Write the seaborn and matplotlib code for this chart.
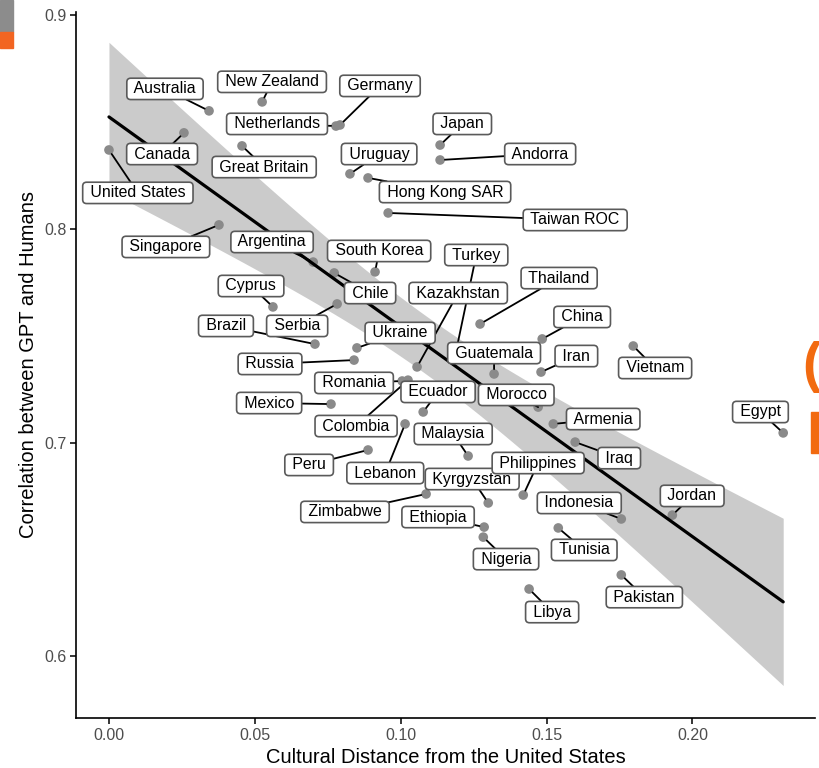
import numpy as np
import pandas as pd
import matplotlib.pyplot as plt
import seaborn as sns

sns.set_theme(style="ticks")
plt.rcParams["font.family"] = ["Liberation Sans", "DejaVu Sans"]

# values
countries = ["United States", "Canada", "Australia", "New Zealand", "Netherlands",
             "Germany", "Great Britain", "Uruguay", "Hong Kong SAR", "Taiwan ROC",
             "Singapore", "Japan", "Andorra", "Argentina", "Chile", "South Korea",
             "Serbia", "Cyprus", "Brazil", "Ukraine", "Russia", "Romania", "Colombia",
             "Mexico", "Lebanon", "Peru", "Zimbabwe", "Ecuador", "Kazakhstan", "Turkey",
             "Thailand", "China", "Iran", "Guatemala", "Vietnam", "Morocco", "Armenia",
             "Iraq", "Malaysia", "Kyrgyzstan", "Philippines", "Ethiopia", "Nigeria",
             "Indonesia", "Jordan", "Tunisia", "Pakistan", "Libya", "Egypt"]
distance = [0.000, 0.0257, 0.0343, 0.0525, 0.0778,
            0.0792, 0.0456, 0.0826, 0.0888, 0.0957,
            0.0377, 0.1135, 0.1135, 0.0700, 0.0772, 0.0912,
            0.0782, 0.0562, 0.0706, 0.0850, 0.0840, 0.1005, 0.1025,
            0.0761, 0.1015, 0.0888, 0.1087, 0.1077, 0.1056, 0.1187,
            0.1272, 0.1485, 0.1481, 0.1320, 0.1797, 0.1471, 0.1523,
            0.1598, 0.1231, 0.1300, 0.1420, 0.1286, 0.1283,
            0.1756, 0.1931, 0.1540, 0.1756, 0.1440, 0.2311]
correlation = [0.8370, 0.8450, 0.8553, 0.8595, 0.8482,
               0.8487, 0.8389, 0.8258, 0.8239, 0.8075,
               0.8019, 0.8393, 0.8323, 0.7845, 0.7794, 0.7799,
               0.7649, 0.7635, 0.7461, 0.7443, 0.7386, 0.7288, 0.7292,
               0.7180, 0.7087, 0.6965, 0.6759, 0.7143, 0.7354, 0.7410,
               0.7555, 0.7485, 0.7330, 0.7321, 0.7452, 0.7166, 0.7087,
               0.7002, 0.6937, 0.6717, 0.6754, 0.6604, 0.6557,
               0.6642, 0.6660, 0.6600, 0.6380, 0.6314, 0.7045]

df = pd.DataFrame({"country": countries, "distance": distance, "corr": correlation})

# where each label box sits (placed by hand, ggrepel style)
label_xy = {
    "Australia": (0.0192, 0.8656), "New Zealand": (0.0559, 0.8689),
    "Germany": (0.0929, 0.8670), "Netherlands": (0.0576, 0.8492),
    "Canada": (0.0182, 0.8351), "Great Britain": (0.0532, 0.8290),
    "Uruguay": (0.0926, 0.8351), "United States": (0.0099, 0.8169),
    "Hong Kong SAR": (0.1152, 0.8173), "Japan": (0.1211, 0.8492),
    "Andorra": (0.1478, 0.8351), "Taiwan ROC": (0.1598, 0.8042),
    "Singapore": (0.0195, 0.7916), "Argentina": (0.0559, 0.7939),
    "South Korea": (0.0926, 0.7897), "Turkey": (0.1259, 0.7878),
    "Thailand": (0.1543, 0.7770), "Kazakhstan": (0.1197, 0.7700),
    "Chile": (0.0895, 0.7700), "Cyprus": (0.0487, 0.7733),
    "Brazil": (0.0401, 0.7546), "Serbia": (0.0645, 0.7546),
    "Ukraine": (0.0998, 0.7513), "China": (0.1622, 0.7588),
    "Guatemala": (0.1320, 0.7419), "Iran": (0.1602, 0.7405),
    "Vietnam": (0.1872, 0.7349), "Russia": (0.0552, 0.7368),
    "Romania": (0.0840, 0.7279), "Ecuador": (0.1128, 0.7237),
    "Morocco": (0.1396, 0.7223), "Mexico": (0.0549, 0.7185),
    "Armenia": (0.1694, 0.7110), "Egypt": (0.2233, 0.7143),
    "Colombia": (0.0847, 0.7077), "Malaysia": (0.1180, 0.7040),
    "Iraq": (0.1749, 0.6927), "Philippines": (0.1471, 0.6904),
    "Peru": (0.0686, 0.6895), "Lebanon": (0.0947, 0.6857),
    "Kyrgyzstan": (0.1245, 0.6829), "Jordan": (0.1999, 0.6750),
    "Indonesia": (0.1612, 0.6717), "Zimbabwe": (0.0809, 0.6675),
    "Ethiopia": (0.1128, 0.6651), "Tunisia": (0.1629, 0.6497),
    "Nigeria": (0.1361, 0.6454), "Pakistan": (0.1835, 0.6276),
    "Libya": (0.1519, 0.6206),
}

fig = plt.figure(figsize=(8.2, 7.68), dpi=100)
ax = fig.add_axes([76/820, 1 - 718/768, (815 - 76)/820, (718 - 12)/768])

# linear fit with 95% confidence band (like geom_smooth(method="lm"))
x = df["distance"].values
y = df["corr"].values
n = len(x)
slope, intercept = np.polyfit(x, y, 1)
xs = np.linspace(x.min(), x.max(), 200)
fit = intercept + slope * xs
resid = y - (intercept + slope * x)
s = np.sqrt((resid ** 2).sum() / (n - 2))
se = s * np.sqrt(1 / n + (xs - x.mean()) ** 2 / ((x - x.mean()) ** 2).sum())
ax.fill_between(xs, fit - 2.012 * se, fit + 2.012 * se, color="#cbcbcb", lw=0, zorder=1)

sns.scatterplot(data=df, x="distance", y="corr", color="#8a8a8a", s=48,
                edgecolor="none", ax=ax, zorder=2)
sns.lineplot(x=xs, y=fit, color="black", lw=2.3, ax=ax, zorder=3)

box = dict(boxstyle="round,pad=0.2,rounding_size=0.25", fc="white", ec="#5a5a5a", lw=1.2)
# segments first, so every box ends up on top of every segment
for _, r in df.iterrows():
    lx, ly = label_xy[r["country"]]
    ax.annotate(" " + r["country"] + " ", xy=(r["distance"], r["corr"]), xytext=(lx, ly),
                ha="center", va="center", fontsize=11.4, color="none",
                bbox=dict(box, fc="none", ec="none"),
                arrowprops=dict(arrowstyle="-", color="black", lw=1.3,
                                shrinkA=0, shrinkB=3.5),
                zorder=3.5)
for _, r in df.iterrows():
    lx, ly = label_xy[r["country"]]
    ax.text(lx, ly, " " + r["country"] + " ", ha="center", va="center", fontsize=11.4,
            color="black", bbox=box, zorder=4)

ax.set_xlim(-0.0113, 0.242)
ax.set_ylim(0.571, 0.9016)
ax.set_xticks([0, 0.05, 0.10, 0.15, 0.20])
ax.set_xticklabels(["0.00", "0.05", "0.10", "0.15", "0.20"])
ax.set_yticks([0.6, 0.7, 0.8, 0.9])
ax.set_yticklabels(["0.6", "0.7", "0.8", "0.9"])
ax.tick_params(axis="both", colors="black", labelcolor="#4d4d4d", labelsize=11.5,
               length=4, width=1.1, pad=3)
for side in ["left", "bottom"]:
    ax.spines[side].set_linewidth(1.2)
    ax.spines[side].set_color("black")
sns.despine(ax=ax)
ax.set_xlabel("Cultural Distance from the United States", fontsize=14.5, color="black", labelpad=4)
ax.set_ylabel("Correlation between GPT and Humans", fontsize=14.5, color="black", labelpad=4)

# bits of the slide that show around the chart
fig.patches.append(plt.Rectangle((0, 1 - 32/768), 13/820, 32/768, transform=fig.transFigure,
                                 color="#8c8c8c", zorder=0))
fig.patches.append(plt.Rectangle((0, 1 - 48/768), 13/820, 16/768, transform=fig.transFigure,
                                 color="#f26522", zorder=0))
fig.patches.append(plt.Rectangle((811/820, 1 - 453/768), 9/820, 41/768, transform=fig.transFigure,
                                 color="#f26a10", zorder=0))
fig.text(802/820, 1 - 367/768, "(", fontsize=40, fontweight="bold", color="#f26a10",
         ha="left", va="center")

fig.savefig("out.png", dpi=100)
